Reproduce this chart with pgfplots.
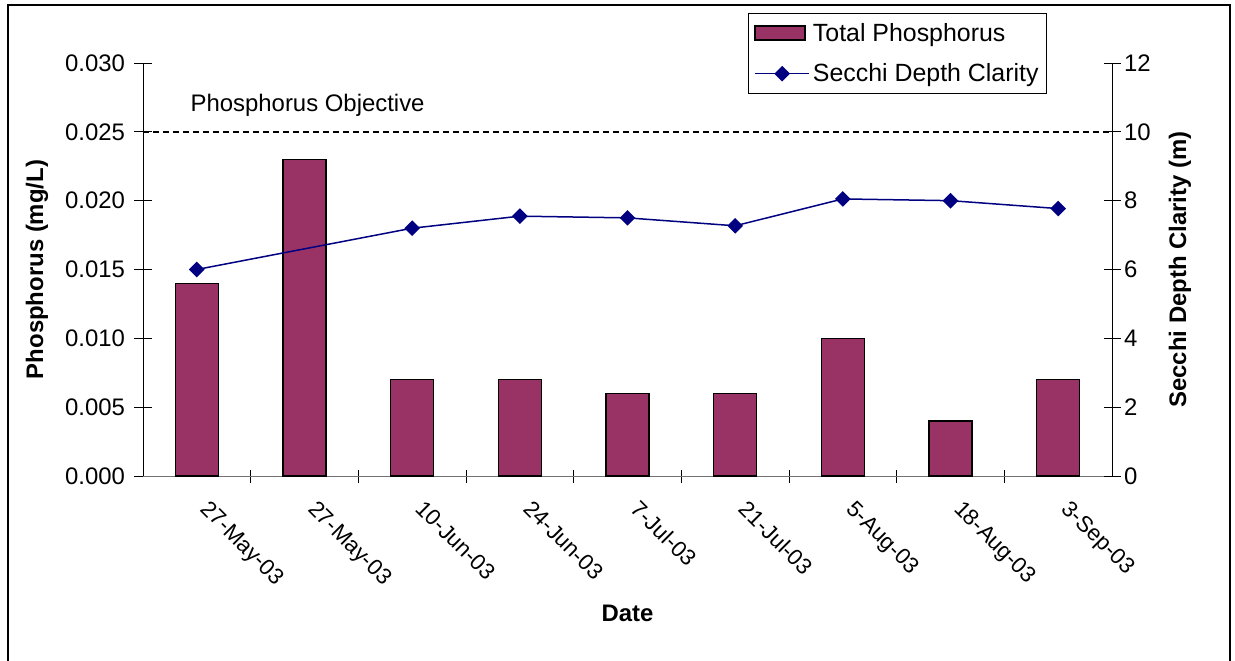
\documentclass[border=0pt]{standalone}
\usepackage{pgfplots}
\pgfplotsset{compat=1.18}
\usepackage{fontspec}
\setmainfont{Liberation Sans}
\definecolor{phos}{HTML}{993366}
\definecolor{secchi}{HTML}{000080}
\newcommand{\bigf}{\fontsize{24}{28}\selectfont}
\begin{document}
\begin{tikzpicture}
\path[use as bounding box] (-143bp,-185bp) rectangle (1092bp,476bp);
\draw[line width=2bp] (-135bp,-190bp) -- (-135bp,471bp) -- (1087bp,471bp) -- (1087bp,-190bp);
\begin{axis}[
  name=main,
  scale only axis, width=969bp, height=413bp,
  xmin=0.5, xmax=9.5, ymin=0, ymax=0.03,
  axis x line*=bottom, axis y line*=left,
  axis line style={black, line width=0.8bp},
  x axis line style={black!55, line width=1bp},
  tick align=center,
  major tick length=17bp,
  tick style={black, line width=0.8bp},
  xtick={1,...,9},
  xticklabels={27-May-03,27-May-03,10-Jun-03,24-Jun-03,7-Jul-03,21-Jul-03,5-Aug-03,18-Aug-03,3-Sep-03},
  major x tick style={draw=none},
  minor xtick={1.5,2.5,...,8.5},
  minor tick length=13bp,
  minor x tick style={black, line width=0.8bp},
  xticklabel style={rotate=-45, anchor=north west, font=\fontsize{22.5}{27}\selectfont, inner sep=0pt, xshift=19.8bp, yshift=-0.4bp},
  ytick={0,0.005,0.01,0.015,0.02,0.025,0.03},
  scaled y ticks=false,
  yticklabel style={font=\bigf, xshift=-6bp, /pgf/number format/.cd, fixed, fixed zerofill, precision=3, assume math mode=true},
  xlabel={Date},
  xlabel style={at={(axis description cs:0.5,-0.3317)}, anchor=center, font=\bfseries\bigf},
  ylabel={Phosphorus (mg/L)},
  ylabel style={at={(axis description cs:-0.1094,0.5)}, anchor=center, font=\bfseries\bigf},
  clip=false,
]
\addplot[ybar, bar width=43bp, fill=phos, draw=black, line width=1.5bp] coordinates {
(1,0.014) (2,0.023) (3,0.007) (4,0.007) (5,0.006) (6,0.006) (7,0.010) (8,0.004) (9,0.007)};
\addplot[black, line width=1.5bp, dash pattern=on 6bp off 4bp] coordinates {(0.5,0.025) (9.5,0.025)};
\node[anchor=west, font=\bigf] at (axis cs:0.91,0.0269) {Phosphorus Objective};
\end{axis}
\begin{axis}[
  scale only axis, width=969bp, height=413bp,
  xmin=0.5, xmax=9.5, ymin=0, ymax=12,
  axis x line=none, axis y line*=right,
  axis line style={black, line width=0.8bp},
  tick align=center,
  major tick length=17bp,
  tick style={black, line width=0.8bp},
  ytick={0,2,4,6,8,10,12},
  yticklabel style={font=\bigf, /pgf/number format/assume math mode=true},
  ylabel={Secchi Depth Clarity (m)},
  ylabel style={at={(axis description cs:1.0702,0.5)}, anchor=center, rotate=0, font=\bfseries\bigf},
  legend style={at={(axis description cs:0.6244,1.1211)}, anchor=north west, draw=black, line width=0.8bp, font=\fontsize{25}{29}\selectfont, row sep=17bp, inner xsep=6bp, inner ysep=8bp},
  legend cell align=left,
  clip=false,
]
\addlegendimage{legend image code/.code={\draw[fill=phos, draw=black, line width=1.5bp] (0bp,-7bp) rectangle (50bp,7bp); \path (55bp,0bp);}}
\addlegendentry{Total Phosphorus}
\addplot[secchi, line width=1.5bp, mark=square*, mark size=4.8bp, mark options={rotate=45, solid},
  legend image code/.code={\draw[secchi, line width=1.5bp, mark=square*, mark size=4.8bp, mark options={rotate=45}, mark indices={2}] plot coordinates {(0bp,0bp) (27bp,0bp) (54bp,0bp)}; \path (55bp,0bp);}]
coordinates {(1,6.0) (3,7.2) (4,7.55) (5,7.5) (6,7.27) (7,8.05) (8,8.0) (9,7.77)};
\addlegendentry{Secchi Depth Clarity}
\end{axis}
\end{tikzpicture}
\end{document}
